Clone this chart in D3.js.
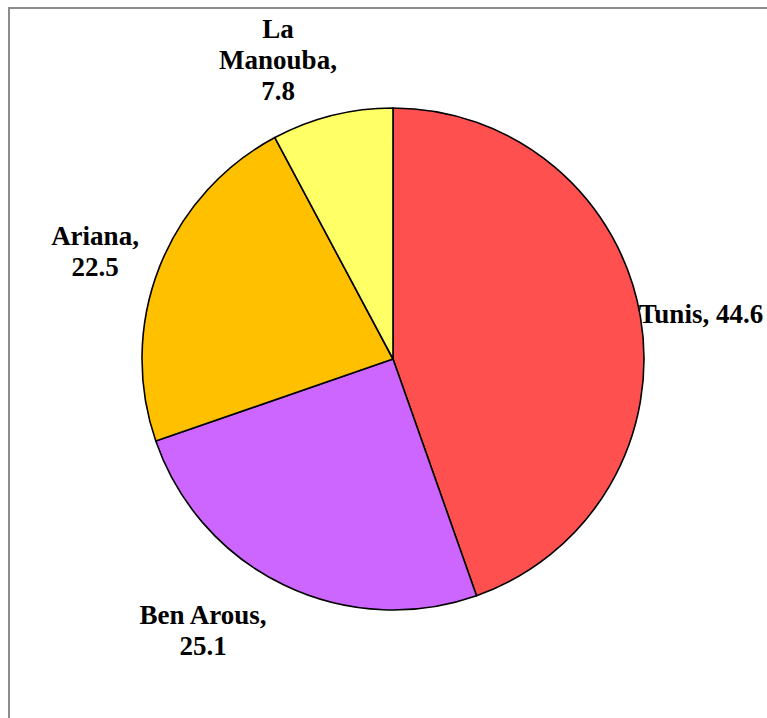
<!DOCTYPE html>
<html>
<head>
<meta charset="utf-8">
<script src="https://cdn.jsdelivr.net/npm/d3@7"></script>
<style>
  html, body { margin: 0; padding: 0; background: #fff; overflow: hidden; }
  svg { display: block; }
</style>
</head>
<body>
<svg id="chart" width="767" height="718"></svg>
<script>
const categories = ["Tunis", "Ben Arous", "Ariana", "La Manouba"];
const values = [44.6, 25.1, 22.5, 7.8];
const colors = ["#FF5050", "#CC66FF", "#FFC000", "#FFFF66"];
// label lines (as shown in the chart)
const labelLines = [
  ["Tunis, 44.6"],
  ["Ben Arous,", "25.1"],
  ["Ariana,", "22.5"],
  ["La", "Manouba,", "7.8"]
];
// label anchor positions (centre x, first baseline y)
const labelPos = [
  [701, 323],
  [203, 624],
  [95, 245],
  [278, 38]
];

const svg = d3.select("#chart");
svg.append("rect")
  .attr("x", 9).attr("y", 8)
  .attr("width", 800).attr("height", 760)
  .attr("fill", "#fff")
  .attr("stroke", "#8c8c8c")
  .attr("stroke-width", 2);

const cx = 393, cy = 359, r = 251;
const data = categories.map((c, i) => ({ name: c, value: values[i], color: colors[i], lines: labelLines[i], pos: labelPos[i] }));

const pie = d3.pie().value(d => d.value).sort(null);
const arc = d3.arc().innerRadius(0).outerRadius(r);

const g = svg.append("g").attr("transform", `translate(${cx},${cy})`);
g.selectAll("path")
  .data(pie(data))
  .join("path")
  .attr("d", arc)
  .attr("fill", d => d.data.color)
  .attr("stroke", "#000")
  .attr("stroke-width", 1.6)
  .attr("stroke-linejoin", "round");

const lineH = 31;
svg.selectAll("text.lbl")
  .data(data)
  .join("text")
  .attr("class", "lbl")
  .attr("text-anchor", "middle")
  .attr("font-family", "'Liberation Serif', 'DejaVu Serif', serif")
  .attr("font-weight", "bold")
  .attr("font-size", 27)
  .attr("fill", "#000")
  .each(function(d) {
    const t = d3.select(this);
    d.lines.forEach((ln, j) => {
      t.append("tspan")
        .attr("x", d.pos[0])
        .attr("y", d.pos[1] + j * lineH)
        .text(ln);
    });
  });
</script>
</body>
</html>
